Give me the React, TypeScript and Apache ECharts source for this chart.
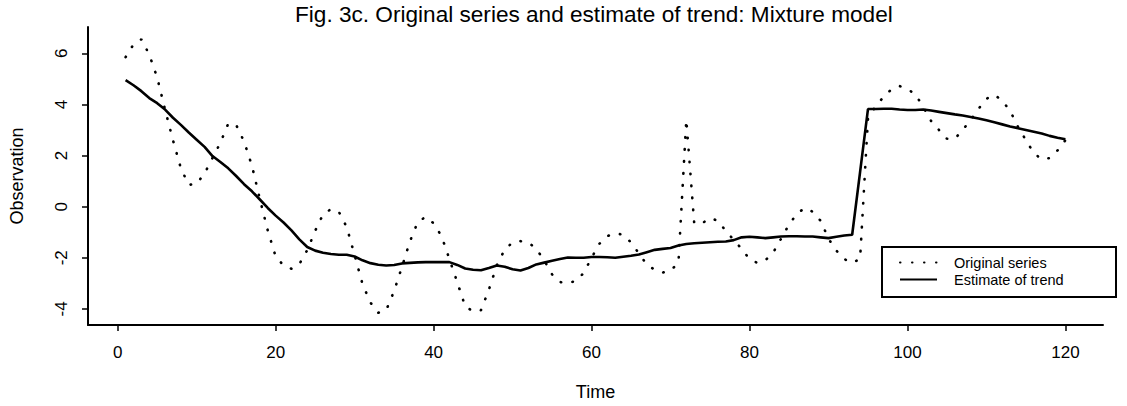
import React, { useEffect, useRef } from "react";
import * as echarts from "echarts";

const TITLE = "Fig. 3c. Original series and estimate of trend: Mixture model";
const X_NAME = "Time";
const Y_NAME = "Observation";
const SERIES_NAMES = ["Original series", "Estimate of trend"];
const X_TICKS = [0, 20, 40, 60, 80, 100, 120];
const Y_TICKS = [-4, -2, 0, 2, 4, 6];
const X_RANGE = [-3.76, 124.76];
const Y_RANGE = [-4.63, 7.03];
const START_TIME = 1;

const original = [
  5.85, 6.35, 6.55, 5.95, 5.05, 3.8, 2.6, 1.5, 0.85, 0.9,
  1.3, 1.9, 2.5, 3.25, 3.2, 2.55, 1.6, 0.3, -0.93, -1.95,
  -2.3, -2.43, -2.25, -1.7, -0.95, -0.3, -0.1, -0.2, -0.8, -1.9,
  -3.03, -3.75, -4.15, -4.05, -3.3, -2.35, -1.36, -0.6, -0.4, -0.65,
  -1.15, -2.05, -2.96, -3.9, -4.1, -4.05, -3.25, -2.3, -1.68, -1.4,
  -1.35, -1.4, -1.65, -2.1, -2.65, -2.95, -3.0, -2.9, -2.6, -2.0,
  -1.45, -1.15, -1.04, -1.1, -1.4, -1.83, -2.27, -2.47, -2.58, -2.5,
  -2.2, 3.4, -0.65, -0.65, -0.45, -0.55, -0.95, -1.3, -1.65, -2.05,
  -2.2, -2.1, -1.8, -1.25, -0.7, -0.28, -0.05, -0.2, -0.55, -1.25,
  -1.72, -2.05, -2.2, -2.05, 3.45, 3.95, 4.3, 4.6, 4.72, 4.6,
  4.4, 3.9, 3.35, 3.0, 2.66, 2.66, 3.0, 3.4, 3.83, 4.22,
  4.38, 4.15, 3.75, 3.12, 2.6, 2.1, 1.85, 1.9, 2.2, 2.6,
];

const trend = [
  4.95, 4.75, 4.52, 4.25, 4.05, 3.8, 3.48, 3.2, 2.9, 2.62,
  2.34, 1.98, 1.75, 1.5, 1.2, 0.88, 0.6, 0.28, -0.05, -0.35,
  -0.62, -0.93, -1.28, -1.58, -1.72, -1.8, -1.85, -1.88, -1.88, -1.95,
  -2.1, -2.21, -2.27, -2.3, -2.28, -2.22, -2.2, -2.18, -2.17, -2.17,
  -2.17, -2.17, -2.28, -2.42, -2.47, -2.49, -2.4, -2.3, -2.35, -2.45,
  -2.5, -2.4, -2.26, -2.19, -2.12, -2.05, -1.99, -2.0, -2.0, -1.97,
  -1.97, -1.98, -2.0, -1.96, -1.92, -1.87, -1.78, -1.69, -1.65, -1.62,
  -1.52, -1.46, -1.43, -1.41, -1.39, -1.37, -1.36, -1.31, -1.2, -1.18,
  -1.2, -1.23, -1.2, -1.17, -1.16, -1.16, -1.17, -1.17, -1.2, -1.23,
  -1.18, -1.13, -1.1, 1.35, 3.82, 3.82, 3.83, 3.83, 3.8, 3.78,
  3.78, 3.8, 3.76, 3.71, 3.66, 3.61, 3.57, 3.51, 3.45, 3.38,
  3.3, 3.22, 3.14, 3.07, 3.0, 2.93, 2.86, 2.77, 2.7, 2.64,
];

const FONT = "'Liberation Sans', Arial, Helvetica, sans-serif";

export default function App() {
  const ref = useRef<HTMLDivElement>(null);
  useEffect(() => {
    if (!ref.current) return;
    const chart = echarts.init(ref.current, undefined, { renderer: "svg" });
    const origData = original.map((v, i) => [START_TIME + i, v]);
    const trendData = trend.map((v, i) => [START_TIME + i, v]);
    const axisLineStyle = { color: "#000", width: 2 };
    chart.setOption({
      animation: false,
      backgroundColor: "#fff",
      title: {
        text: TITLE,
        left: 295,
        top: 3,
        padding: 0,
        textStyle: { fontFamily: FONT, fontSize: 22.6, fontWeight: "normal", color: "#000" },
      },
      grid: { left: 80, right: 24, top: 27, bottom: 81 },
      legend: {
        data: SERIES_NAMES,
        orient: "vertical",
        left: 899,
        top: 255,
        padding: 0,
        itemWidth: 37,
        itemHeight: 14,
        itemGap: 2,
        itemStyle: { color: "rgba(0,0,0,0)", borderWidth: 0, opacity: 0 },
        textStyle: { fontFamily: FONT, fontSize: 14.5, color: "#000", padding: [0, 0, 0, 12] },
      },
      graphic: [
        {
          type: "rect",
          shape: { x: 882, y: 247, width: 234, height: 50 },
          style: { fill: "none", stroke: "#000", lineWidth: 2 },
          z: 100,
        },
      ],
      xAxis: {
        type: "value",
        min: X_RANGE[0],
        max: X_RANGE[1],
        name: X_NAME,
        nameLocation: "middle",
        nameGap: 58,
        nameTextStyle: { fontFamily: FONT, fontSize: 18, color: "#000" },
        axisLine: { show: true, onZero: false, lineStyle: axisLineStyle },
        axisTick: { show: true, customValues: X_TICKS, length: 6, lineStyle: { color: "#000", width: 1.5 } },
        axisLabel: { customValues: X_TICKS, margin: 19, fontFamily: FONT, fontSize: 17, color: "#000" },
        splitLine: { show: false },
      },
      yAxis: {
        type: "value",
        min: Y_RANGE[0],
        max: Y_RANGE[1],
        name: Y_NAME,
        nameLocation: "middle",
        nameGap: 62,
        nameRotate: 90,
        nameTextStyle: { fontFamily: FONT, fontSize: 18, color: "#000" },
        axisLine: { show: true, onZero: false, lineStyle: axisLineStyle },
        axisTick: { show: true, customValues: Y_TICKS, length: 6, lineStyle: { color: "#000", width: 1.5 } },
        axisLabel: { customValues: Y_TICKS, rotate: 90, margin: 18, fontFamily: FONT, fontSize: 17, color: "#000" },
        splitLine: { show: false },
      },
      series: [
        {
          name: SERIES_NAMES[0],
          type: "line",
          data: origData,
          symbol: "none",
          lineStyle: { color: "#000", width: 2.6, type: [0.5, 11.5], cap: "round" },
          itemStyle: { color: "#000" },
        },
        {
          name: SERIES_NAMES[1],
          type: "line",
          data: trendData,
          symbol: "none",
          lineStyle: { color: "#000", width: 2.6, type: "solid" },
          itemStyle: { color: "#000" },
        },
      ],
    });
    return () => chart.dispose();
  }, []);
  return (
    <div
      ref={ref}
      style={{ position: "absolute", left: 0, top: 0, width: 1127, height: 406, background: "#fff" }}
    />
  );
}
